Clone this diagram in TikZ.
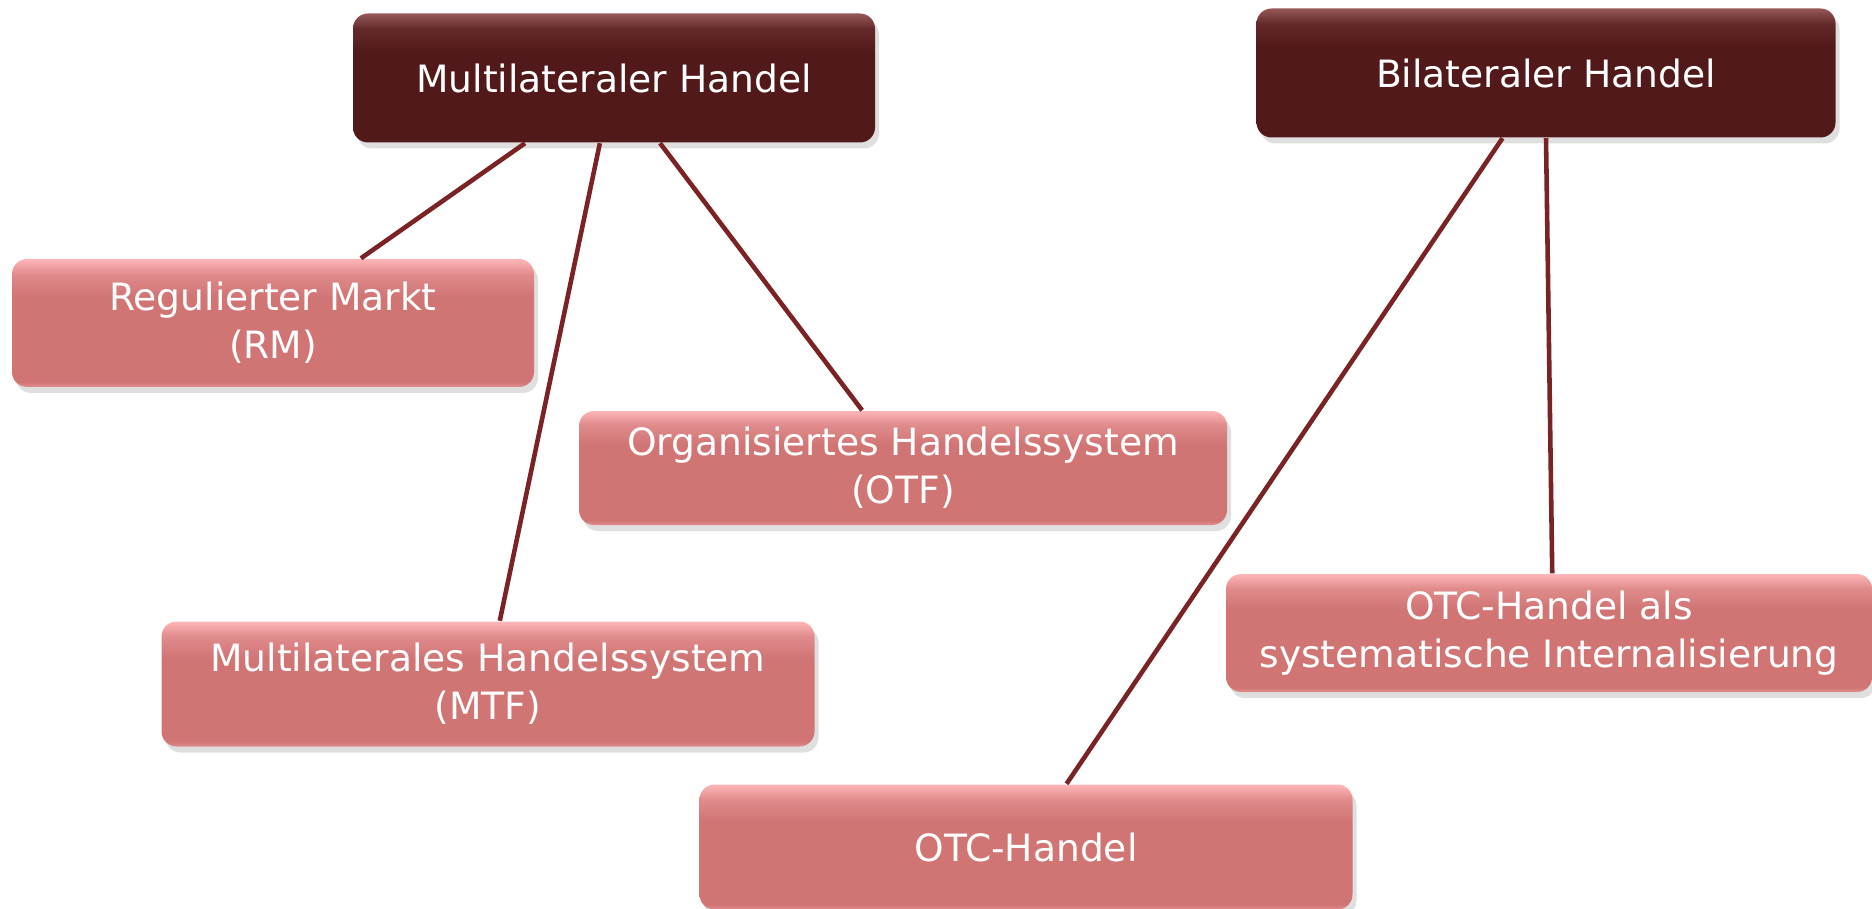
\documentclass[tikz,border=0pt]{standalone}
\usepackage{fontspec}
\setmainfont{DejaVu Sans}
\usetikzlibrary{calc,shadows}

\definecolor{darkbase}{RGB}{82,25,27}
\definecolor{darktop}{RGB}{150,88,88}
\definecolor{pinkbase}{RGB}{208,116,116}
\definecolor{pinktop}{RGB}{255,182,184}
\definecolor{linkcol}{RGB}{122,34,36}

% the path covers 25bp..75bp of the shading
\pgfdeclareverticalshading{darkgloss}{100bp}{color(0bp)=(darkbase); color(25bp)=(darkbase); color(60bp)=(darkbase); color(69bp)=(darkbase!75!darktop); color(75bp)=(darktop); color(100bp)=(darktop)}
\pgfdeclareverticalshading{pinkgloss}{100bp}{color(0bp)=(pinkbase!60!pinktop); color(25bp)=(pinkbase!60!pinktop); color(27bp)=(pinkbase); color(60bp)=(pinkbase); color(69bp)=(pinkbase!65!pinktop); color(75bp)=(pinktop); color(100bp)=(pinktop)}

\tikzset{
  box/.style={rounded corners=1.5mm, inner sep=0pt, align=center, text=white,
    font=\fontsize{10.7}{13.7}\selectfont,
    drop shadow={opacity=0.25, shadow xshift=0.4mm, shadow yshift=-0.6mm}},
  topbox/.style={box, shade, shading=darkgloss},
  subbox/.style={box, shade, shading=pinkgloss},
  link/.style={draw=linkcol, line width=1.3pt}
}

\begin{document}
\begin{tikzpicture}[x=0.1mm,y=-0.1mm]
\useasboundingbox (0,0) rectangle (1872,909);
% Oberbegriffe
\node[topbox, minimum width=52.2mm, minimum height=12.9mm] (multi) at (614,78) {Multilateraler Handel};
\node[topbox, minimum width=57.9mm, minimum height=12.9mm] (bilat) at (1546,73) {Bilateraler Handel};
% Handelsplaetze
\node[subbox, minimum width=52.2mm, minimum height=12.8mm] (rm) at (273,323) {Regulierter Markt\\(RM)};
\node[subbox, minimum width=64.8mm, minimum height=11.4mm] (otf) at (903,468) {Organisiertes Handelssystem\\(OTF)};
\node[subbox, minimum width=65.3mm, minimum height=12.5mm] (mtf) at (488,684) {Multilaterales Handelssystem\\(MTF)};
\node[subbox, minimum width=64.6mm, minimum height=11.8mm] (sysint) at (1549,633) {OTC-Handel als\\systematische Internalisierung};
\node[subbox, minimum width=65.3mm, minimum height=12.5mm] (otc) at (1026,847) {OTC-Handel};
% Verbindungen
\draw[link] ($(multi.south west)!0.33!(multi.south east)$) -- ($(rm.north west)!0.668!(rm.north east)$);
\draw[link] ($(multi.south west)!0.473!(multi.south east)$) -- ($(mtf.north west)!0.518!(mtf.north east)$);
\draw[link] ($(multi.south west)!0.588!(multi.south east)$) -- ($(otf.north west)!0.437!(otf.north east)$);
\draw[link] ($(bilat.south west)!0.425!(bilat.south east)$) -- ($(otc.north west)!0.562!(otc.north east)$);
\draw[link] ($(bilat.south west)!0.5!(bilat.south east)$) -- ($(sysint.north west)!0.505!(sysint.north east)$);
\end{tikzpicture}
\end{document}
